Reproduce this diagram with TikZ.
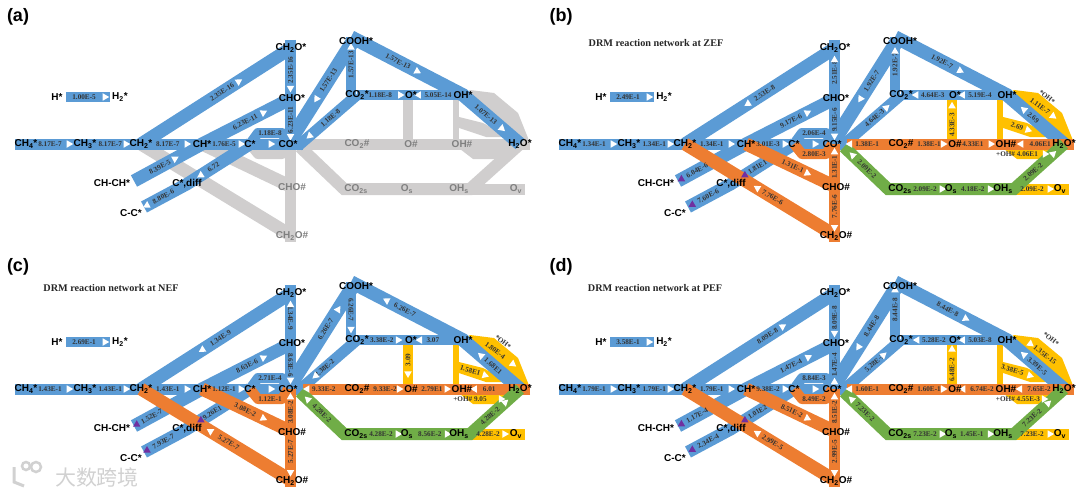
\documentclass[tikz,border=0pt]{standalone}
\usepackage{fontspec}
\setmainfont{Liberation Serif}
\setsansfont{Liberation Sans}
\newfontfamily\cjkfont{Noto Sans CJK SC}
\usetikzlibrary{backgrounds, shapes.geometric}
\definecolor{netblue}{HTML}{5B9BD5}
\definecolor{netorange}{HTML}{ED7D31}
\definecolor{netyellow}{HTML}{FFC000}
\definecolor{netgreen}{HTML}{70AD47}
\definecolor{netgrey}{HTML}{D0CECE}
\definecolor{netpurple}{HTML}{7030A0}
\definecolor{phasetext}{HTML}{7F7F7F}
\tikzset{
  spec/.style={font=\fontsize{10}{10}\selectfont\sffamily\bfseries, inner sep=0pt},
  ratetag/.style={font=\fontsize{7.2}{7.2}\selectfont\bfseries, text=black!80, inner sep=0pt, sloped},
  paneltag/.style={font=\fontsize{18}{18}\selectfont\sffamily\bfseries, inner sep=0pt},
  nettitle/.style={font=\fontsize{10.2}{10.2}\selectfont\bfseries, text=black!85, inner sep=0pt},
  band/.style={line width=#1, line join=miter},
  band/.default=11pt,
  fwd/.style={isosceles triangle, isosceles triangle stretches, fill=white, inner sep=0pt, minimum height=6.5pt, minimum width=7.5pt, sloped, allow upside down},
  bwd/.style={fwd, shape border rotate=180},
  pur/.style={isosceles triangle, isosceles triangle stretches, fill=netpurple, inner sep=0pt, minimum height=6.5pt, minimum width=7.5pt, shape border rotate=90},
}
% one rate on a link: from, to, label pos, label, head pos, head style
\newcommand{\rate}[6]{\path (#1.center) -- (#2.center) node[ratetag, pos=#3] (#1-#2-t) {#4} node[#6, pos=#5] (#1-#2-h) {};}
% species and helper points of one panel, #1 = colour of the surface species
\newcommand{\netnodes}[1]{
  \node[spec] (CHfour) at (26,144) {CH\textsubscript{4}*};
  \node[spec] (CHthree) at (85,144) {CH\textsubscript{3}*};
  \node[spec] (CHtwo) at (141,144) {CH\textsubscript{2}*};
  \node[spec] (CH) at (202,144) {CH*};
  \node[spec] (C) at (250,144) {C*};
  \node[spec] (CO) at (288,144) {CO*};
  \node[spec] (CHO) at (292,98) {CHO*};
  \node[spec] (CHtwoO) at (291,48) {CH\textsubscript{2}O*};
  \node[spec] (COOH) at (356,41) {COOH*};
  \node[spec] (COtwo) at (357,95) {CO\textsubscript{2}*};
  \node[spec] (O) at (411,95) {O*};
  \node[spec] (OH) at (463,95) {OH*};
  \node[spec] (HtwoO) at (520,144) {H\textsubscript{2}O*};
  \node[spec] (HS) at (57,97) {H*};
  \node[spec] (Htwo) at (120,97) {H\textsubscript{2}*};
  \node[spec] (CHCH) at (112,183) {CH-CH*};
  \node[spec] (Cdiff) at (187,184) {C*,diff};
  \node[spec] (CC) at (131,213) {C-C*};
  \node[spec, text=#1] (COtwoB) at (357,144) {CO\textsubscript{2}\#};
  \node[spec, text=#1] (OB) at (411,144) {O\#};
  \node[spec, text=#1] (OHB) at (462,144) {OH\#};
  \node[spec, text=#1] (CHOB) at (292,187) {CHO\#};
  \node[spec, text=#1] (CHtwoOB) at (292,236) {CH\textsubscript{2}O\#};
  \node[spec, text=#1] (COtwoS) at (356,189) {CO\textsubscript{2s}};
  \node[spec, text=#1] (OS) at (407,189) {O\textsubscript{s}};
  \node[spec, text=#1] (OHS) at (459,189) {OH\textsubscript{s}};
  \node[spec, text=#1] (OV) at (516,189) {O\textsubscript{v}};
  \coordinate (Hl) at (66,97);
  \coordinate (Hr) at (110,97);
  \coordinate (mainL) at (15,144);
  \coordinate (mainR) at (303,144);
  \coordinate (chEnd) at (134,181);
  \coordinate (ccEnd) at (144,207);
  \coordinate (topV) at (290.5,40);
  \coordinate (botV) at (290.5,242);
  \coordinate (Vt) at (290.5,48);
  \coordinate (Vc) at (290.5,98);
  \coordinate (Vb) at (290.5,144);
  \coordinate (Vd) at (290.5,187);
  \coordinate (Ve) at (290.5,236);
  \coordinate (CUa) at (258,133);
  \coordinate (CUb) at (282,133);
  \coordinate (CDa) at (258,154);
  \coordinate (CDb) at (282,154);
  \coordinate (COa) at (298,146);
  \coordinate (topA) at (353,41);
  \coordinate (topB) at (351,37);
  \coordinate (botB) at (351,95);
  \coordinate (CObl) at (344,189);
  \coordinate (OHr) at (470,189);
  \coordinate (OVr) at (525,189);
  \coordinate (CObr) at (300,147);
  \coordinate (OHx) at (456,100);
  \coordinate (OHy) at (456,144);
  \coordinate (Ox) at (408,100);
  \coordinate (Oy) at (408,144);
  \coordinate (Ara) at (470,90);
  \coordinate (Arb) at (494,93);
  \coordinate (Arc) at (518,113);
  \coordinate (Ard) at (530,143);
  \coordinate (Wa) at (459,117);
  \coordinate (Wb) at (483,123);
  \coordinate (Wc) at (509,137);
  \coordinate (Wd) at (486,137);
  \coordinate (We) at (459,128);
  \coordinate (Ua) at (460,149);
  \coordinate (Ub) at (473,159);
  \coordinate (Uc) at (502,159);
  \coordinate (Ud) at (512,149);
  \coordinate (ArS) at (480,94);
  \coordinate (ArE) at (522,126);
  \coordinate (UtS) at (462,154);
  \coordinate (UtE) at (512,154);
  \coordinate (WtS) at (459,122);
  \coordinate (WtE) at (506,137);
  \coordinate (COpR) at (530,144);
}
% yellow family, lies under the blue links
\newcommand{\sidebands}[1]{
  \fill[#1] (OH.center) -- (Ara) -- (Arb) -- (Arc) -- (Ard) -- (HtwoO.center) -- cycle;
  \fill[#1] (Wa) -- (Wb) -- (Wc) -- (Wd) -- (We) -- cycle;
  \fill[#1] (Ua) -- (Ub) -- (Uc) -- (Ud) -- cycle;
  \draw[#1, band=10pt] (Ox) -- (Oy);
  \draw[#1, band=6pt] (OHx) -- (OHy);
  \draw[#1, band] (OHS.center) -- (OVr);
}
\newcommand{\bluebands}{
  \draw[netblue, band=10pt] (Hl) -- (Hr);
  \draw[netblue, band=13pt] (chEnd) -- (CH.center) -- (CHO.center);
  \draw[netblue, band=12.5pt] (ccEnd) -- (Cdiff.center) -- (C.center);
  \draw[netblue, band=13pt] (CHtwo.center) -- (CHtwoO.center);
  \draw[netblue, band] (mainL) -- (mainR);
  \draw[netblue, band=10pt, line join=round] (C.center) -- (CUa) -- (CUb) -- (CO.center);
  \draw[netblue, band] (topV) -- (Vb);
  \draw[netblue, band=14pt] (CO.center) -- (topA);
  \draw[netblue, band=11pt] (COa) -- (COtwo.center);
  \draw[netblue, band=10pt] (topB) -- (botB);
  \draw[netblue, band=13.5pt] (topB) -- (OH.center) -- (HtwoO.center);
  \draw[netblue, band=10.5pt] (COtwo.center) -- (OH.center);
}
% orange and green family, #1 orange, #2 green
\newcommand{\mainbands}[2]{
  \draw[#1, band=10pt, line join=round] (C.center) -- (CDa) -- (CDb) -- (CO.center);
  \draw[#1, band=13pt] (CH.center) -- (CHOB.center);
  \draw[#1, band=13pt] (CHtwo.center) -- (CHtwoOB.center);
  \draw[#1, band] (Vb) -- (botV);
  \draw[#1, band] (COpR) -- (mainR);
  \draw[#2, band=12pt] (CObr) -- (CObl) -- (OHr) -- (HtwoO.center);
}
\begin{document}
\begin{tikzpicture}[x=1pt, y=-1pt]
\useasboundingbox (0,0) rectangle (1080,495);

\begin{scope}[name prefix=a-]
  \netnodes{phasetext}
  \node[paneltag] (tag) at (18,17) {(a)};
  \begin{scope}[on background layer]
    \sidebands{netgrey}
    \mainbands{netgrey}{netgrey}
    \bluebands
    \foreach \ra/\rb/\lp/\tx/\hp/\hd in {
      HS/Htwo/.43/1.00E-5/.76/fwd, mainL/CHthree/.5/8.17E-7/.77/fwd,
      CHthree/CHtwo/.45/8.17E-7/.73/fwd, CHtwo/CH/.44/8.17E-7/.75/fwd,
      CH/C/.46/1.76E-5/.81/fwd, C/CO/.5/{}/.55/fwd, chEnd/CH/.38/8.39E-5/.6/fwd,
      CH/CHO/.48/6.23E-11/.68/fwd, ccEnd/Cdiff/.45/8.80E-6/.07/bwd, Cdiff/C/.42/6.72/.22/bwd,
      CHtwo/CHtwoO/.54/2.35E-16/.65/fwd, Vc/Vt/.56/2.35E-16/.2/bwd,
      Vb/Vc/.52/6.23E-11/.17/bwd, CO/topA/.62/1.57E-13/.44/bwd,
      COa/COtwo/.55/1.18E-8/.2/bwd, botB/topB/.52/1.57E-13/.82/fwd,
      COtwo/O/.43/1.18E-8/.8/fwd, OH/O/.48/5.05E-14/.85/fwd,
      topB/OH/.42/1.57E-13/.59/fwd, OH/HtwoO/.4/1.07E-13/.68/fwd}
      {\rate{\ra}{\rb}{\lp}{\tx}{\hp}{\hd}}
    \path (CUa) -- (CUb) node[ratetag, pos=.5] (upt) {1.18E-8};
  \end{scope}
\end{scope}

\begin{scope}[shift={(544,0)}, name prefix=b-]
  \netnodes{black}
  \node[paneltag] (tag) at (17,17) {(b)};
  \node[nettitle] (title) at (112,43) {DRM reaction network at ZEF};
  \begin{scope}[on background layer]
    \sidebands{netyellow}
    \bluebands
    \mainbands{netorange}{netgreen}
    \foreach \ra/\rb/\lp/\tx/\hp/\hd in {
      HS/Htwo/.43/2.49E-1/.76/fwd, mainL/CHthree/.5/1.34E-1/.77/fwd,
      CHthree/CHtwo/.45/1.34E-1/.73/fwd, CHtwo/CH/.44/1.34E-1/.75/fwd,
      CH/C/.46/3.01E-3/.81/fwd, C/CO/.5/{}/.55/fwd, chEnd/CH/.28/6.04E-6/.05/pur,
      CH/CHO/.5/9.17E-6/.68/fwd, ccEnd/Cdiff/.47/7.60E-6/.1/pur, Cdiff/C/.42/1.81E1/.22/pur,
      CHtwo/CHtwoO/.53/2.53E-8/.42/bwd, CH/CHOB/.52/1.31E-1/.68/fwd,
      CHtwo/CHtwoOB/.58/7.76E-6/.48/bwd, Vc/Vt/.5/2.51E-8/.76/fwd,
      Vb/Vc/.52/9.15E-6/.18/bwd, Vd/Vb/.46/1.31E-1/.81/fwd, Ve/Vd/.6/7.76E-6/.18/bwd,
      CO/topA/.61/1.92E-7/.44/bwd, COa/COtwo/.55/4.64E-3/.75/fwd, botB/topB/.52/1.92E-7/.75/fwd,
      COtwo/O/.59/4.64E-3/.28/bwd, OH/O/.52/5.19E-4/.85/fwd,
      topB/OH/.42/1.92E-7/.58/fwd, OH/HtwoO/.46/2.69/.3/bwd,
      COtwoS/OS/.49/2.09E-2/.82/fwd, OS/OHS/.42/4.18E-2/.75/fwd, OHS/OV/.51/2.09E-2/.82/fwd}
      {\rate{\ra}{\rb}{\lp}{\tx}{\hp}{\hd}}
    \path (CUa) -- (CUb) node[ratetag, pos=.5] (upt) {2.06E-4};
    \path (CDa) -- (CDb) node[ratetag, pos=.5] (dnt) {2.80E-3};
    \path (Oy) -- (Ox) node[ratetag, pos=.43] (ot) {4.33E-3} node[fwd, pos=.86] (oh) {};
    \path (ArS) -- (ArE) node[ratetag, pos=.38] (art) {1.11E-7} node[fwd, pos=.69] (arh) {};
    \path (WtS) -- (WtE) node[ratetag, pos=.3] (wt) {2.69} node[fwd, pos=.53] (wh) {};
    \path (UtS) -- (UtE) node[ratetag, pos=.22] (ut) {+OH\# 4.06E1} node[fwd, pos=.78] (uh) {};
    \path (COtwoB.center) -- (CO.center) node[ratetag, pos=.49] (ta) {1.38E-1} node[fwd, pos=.74] (tb) {};
    \path (COtwoB.center) -- (OB.center) node[ratetag, pos=.52] (tc) {1.38E-1} node[fwd, pos=.78] (td) {};
    \path (OB.center) -- (OHB.center) node[ratetag, pos=.35] (te) {4.33E1} node[fwd, pos=.7] (tf) {};
    \path (HtwoO.center) -- (OHB.center) node[ratetag, pos=.41] (tg) {4.06E1} node[fwd, pos=.74] (th) {};
    \path (CObr) -- (CObl) node[ratetag, pos=.52] (ti) {2.09E-2} node[bwd, pos=.2] (tj) {};
    \path (OHr) -- (HtwoO.center) node[ratetag, pos=.38] (tk) {2.09E-2} node[fwd, pos=.78] (tl) {};
    \node[ratetag, rotate=-38] (ohtag) at (503,97) {*OH*};
  \end{scope}
\end{scope}

\begin{scope}[shift={(0,245)}, name prefix=c-]
  \netnodes{black}
  \node[paneltag] (tag) at (18,22) {(c)};
  \node[nettitle] (title) at (111,43) {DRM reaction network at NEF};
  \begin{scope}[on background layer]
    \sidebands{netyellow}
    \bluebands
    \mainbands{netorange}{netgreen}
    \foreach \ra/\rb/\lp/\tx/\hp/\hd in {
      HS/Htwo/.43/2.69E-1/.76/fwd, mainL/CHthree/.5/1.43E-1/.77/fwd,
      CHthree/CHtwo/.45/1.43E-1/.73/fwd, CHtwo/CH/.44/1.43E-1/.75/fwd,
      CH/C/.46/1.12E-1/.81/fwd, C/CO/.5/{}/.55/fwd, chEnd/CH/.26/1.52E-7/.04/pur,
      CH/CHO/.5/8.63E-6/.68/fwd, ccEnd/Cdiff/.45/7.93E-7/.07/pur, Cdiff/C/.4/9.26E1/.22/pur,
      CHtwo/CHtwoO/.53/1.34E-9/.41/bwd, CH/CHOB/.48/3.08E-2/.68/fwd,
      CHtwo/CHtwoOB/.58/5.27E-7/.46/bwd, Vt/Vc/.5/1.34E-9/.24/bwd,
      Vc/Vb/.48/8.63E-6/.8/fwd, Vd/Vb/.46/3.08E-2/.81/fwd, Ve/Vd/.6/5.27E-7/.18/bwd,
      CO/topA/.58/6.26E-7/.77/fwd, COa/COtwo/.45/2.38E-2/.3/bwd, topB/botB/.48/6.26E-7/.81/fwd,
      COtwo/O/.46/3.38E-2/.76/fwd, OH/O/.58/3.07/.83/fwd,
      topB/OH/.48/6.26E-7/.32/bwd, OH/HtwoO/.53/1.68E1/.32/bwd,
      COtwoS/OS/.49/4.28E-2/.82/fwd, OS/OHS/.44/8.56E-2/.77/fwd, OHS/OV/.51/4.28E-2/.8/fwd}
      {\rate{\ra}{\rb}{\lp}{\tx}{\hp}{\hd}}
    \path (CUa) -- (CUb) node[ratetag, pos=.5] (upt) {2.71E-4};
    \path (CDa) -- (CDb) node[ratetag, pos=.5] (dnt) {1.12E-1};
    \path (Oy) -- (Ox) node[ratetag, pos=.66] (ot) {3.09} node[bwd, pos=.35] (oh) {};
    \path (ArS) -- (ArE) node[ratetag, pos=.36] (art) {1.80E-4} node[fwd, pos=.78] (arh) {};
    \path (WtS) -- (WtE) node[ratetag, pos=.24] (wt) {1.58E1} node[fwd, pos=.55] (wh) {};
    \path (UtS) -- (UtE) node[ratetag, pos=.16] (ut) {+OH\# 9.05} node[fwd, pos=.78] (uh) {};
    \path (COtwoB.center) -- (CO.center) node[ratetag, pos=.48] (ta) {9.33E-2} node[fwd, pos=.72] (tb) {};
    \path (COtwoB.center) -- (OB.center) node[ratetag, pos=.52] (tc) {9.33E-2} node[fwd, pos=.78] (td) {};
    \path (OB.center) -- (OHB.center) node[ratetag, pos=.41] (te) {2.79E1} node[fwd, pos=.7] (tf) {};
    \path (HtwoO.center) -- (OHB.center) node[ratetag, pos=.53] (tg) {6.01} node[fwd, pos=.78] (th) {};
    \path (CObr) -- (CObl) node[ratetag, pos=.5] (ti) {4.28E-2} node[bwd, pos=.18] (tj) {};
    \path (OHr) -- (HtwoO.center) node[ratetag, pos=.4] (tk) {4.28E-2} node[fwd, pos=.7] (tl) {};
    \node[ratetag, rotate=-38] (ohtag) at (503,97) {*OH*};
  \end{scope}
\end{scope}

\begin{scope}[shift={(544,245)}, name prefix=d-]
  \netnodes{black}
  \node[paneltag] (tag) at (17,22) {(d)};
  \node[nettitle] (title) at (111,43) {DRM reaction network at PEF};
  \begin{scope}[on background layer]
    \sidebands{netyellow}
    \bluebands
    \mainbands{netorange}{netgreen}
    \foreach \ra/\rb/\lp/\tx/\hp/\hd in {
      HS/Htwo/.43/3.58E-1/.76/fwd, mainL/CHthree/.5/1.79E-1/.77/fwd,
      CHthree/CHtwo/.45/1.79E-1/.73/fwd, CHtwo/CH/.44/1.79E-1/.75/fwd,
      CH/C/.46/9.38E-2/.81/fwd, C/CO/.5/{}/.55/fwd, chEnd/CH/.28/1.17E-4/.05/pur,
      CH/CHO/.5/1.47E-4/.69/fwd, ccEnd/Cdiff/.47/2.34E-4/.1/pur, Cdiff/C/.42/1.01E2/.22/pur,
      CHtwo/CHtwoO/.55/8.09E-8/.65/fwd, CH/CHOB/.51/8.51E-2/.68/fwd,
      CHtwo/CHtwoOB/.58/2.99E-5/.48/bwd, Vc/Vt/.5/8.09E-8/.2/bwd,
      Vb/Vc/.52/1.47E-4/.15/fwd, Vd/Vb/.46/8.51E-2/.81/fwd, Ve/Vd/.6/2.99E-5/.18/bwd,
      CO/topA/.61/8.44E-8/.41/bwd, COa/COtwo/.55/5.28E-2/.7/fwd, botB/topB/.52/8.44E-8/.86/fwd,
      COtwo/O/.61/5.28E-2/.3/bwd, OH/O/.52/5.03E-8/.85/fwd,
      topB/OH/.47/8.44E-8/.63/fwd, OH/HtwoO/.53/3.39E-5/.3/bwd,
      COtwoS/OS/.49/7.23E-2/.82/fwd, OS/OHS/.4/1.45E-1/.75/fwd, OHS/OV/.51/7.23E-2/.82/fwd}
      {\rate{\ra}{\rb}{\lp}{\tx}{\hp}{\hd}}
    \path (CUa) -- (CUb) node[ratetag, pos=.5] (upt) {8.84E-3};
    \path (CDa) -- (CDb) node[ratetag, pos=.5] (dnt) {8.49E-2};
    \path (Oy) -- (Ox) node[ratetag, pos=.43] (ot) {6.48E-2} node[fwd, pos=.9] (oh) {};
    \path (ArS) -- (ArE) node[ratetag, pos=.5] (art) {1.35E-15} node[fwd, pos=.15] (arh) {};
    \path (WtS) -- (WtE) node[ratetag, pos=.2] (wt) {3.38E-5} node[fwd, pos=.57] (wh) {};
    \path (UtS) -- (UtE) node[ratetag, pos=.24] (ut) {+OH\# 4.55E-3} node[fwd, pos=.76] (uh) {};
    \path (COtwoB.center) -- (CO.center) node[ratetag, pos=.49] (ta) {1.60E-1} node[fwd, pos=.74] (tb) {};
    \path (COtwoB.center) -- (OB.center) node[ratetag, pos=.52] (tc) {1.60E-1} node[fwd, pos=.78] (td) {};
    \path (OHB.center) -- (OB.center) node[ratetag, pos=.47] (te) {6.74E-2} node[fwd, pos=.84] (tf) {};
    \path (HtwoO.center) -- (OHB.center) node[ratetag, pos=.43] (tg) {7.65E-2} node[fwd, pos=.76] (th) {};
    \path (CObr) -- (CObl) node[ratetag, pos=.48] (ti) {7.23E-2} node[bwd, pos=.18] (tj) {};
    \path (OHr) -- (HtwoO.center) node[ratetag, pos=.36] (tk) {7.23E-2} node[fwd, pos=.68] (tl) {};
    \node[ratetag, rotate=-38] (ohtag) at (507,94) {*OH*};
  \end{scope}
\end{scope}

% logo mark of the source, lower left
\node[font=\fontsize{21}{21}\selectfont\cjkfont, text=black!18, inner sep=0pt] (mark) at (97,477) {大数跨境};
\draw[black!18, line width=2.5pt] (36,467) circle (5);
\draw[black!18, line width=2.5pt] (26,466) circle (4);
\draw[black!18, line width=3pt] (14,467) -- (14,482) -- (24,486);
\end{tikzpicture}
\end{document}
